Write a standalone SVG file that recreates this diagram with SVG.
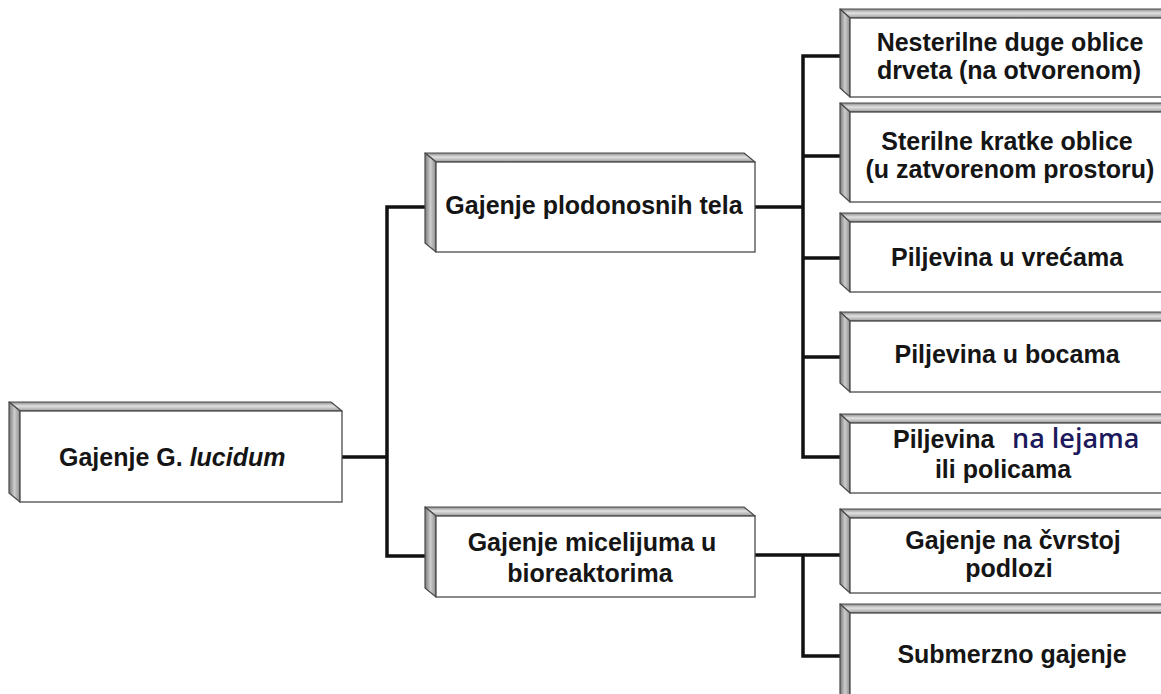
<svg xmlns="http://www.w3.org/2000/svg" width="1161" height="694" viewBox="0 0 1161 694">
<defs>
<linearGradient id="gTop" x1="0" y1="0" x2="0" y2="1">
<stop offset="0" stop-color="#8a8a8a"/>
<stop offset="0.45" stop-color="#e2e2e2"/>
<stop offset="1" stop-color="#9a9a9a"/>
</linearGradient>
<linearGradient id="gSide" x1="0" y1="0" x2="1" y2="0">
<stop offset="0" stop-color="#7a7a7a"/>
<stop offset="0.5" stop-color="#cdcdcd"/>
<stop offset="1" stop-color="#8c8c8c"/>
</linearGradient>
<style>
.front{fill:#ffffff;stroke:#4a4a4a;stroke-width:1.3}
.top{fill:url(#gTop);stroke:#4a4a4a;stroke-width:1.2;stroke-linejoin:round}
.side{fill:url(#gSide);stroke:#4a4a4a;stroke-width:1.2;stroke-linejoin:round}
.t{font-family:"Liberation Sans",Arial,sans-serif;font-weight:bold;font-size:25px;fill:#151515;text-anchor:middle}
.ts{font-family:"Liberation Sans",Arial,sans-serif;font-weight:bold;font-size:25px;fill:#151515}
.blue{font-family:"Open Sans","Liberation Sans",sans-serif;font-weight:600;font-size:27px;fill:#1c1a5c}
.con{fill:none;stroke:#111;stroke-width:3.5;stroke-linecap:square}
</style>
</defs>
<g id="connectors">
<path class="con" d="M342,457 H387 M387,207 V556 M387,207 H436 M387,556 H436"/>
<path class="con" d="M755,207 H803 M803,56 V457 M803,56 H850 M803,156 H850 M803,258 H850 M803,357 H850 M803,457 H850"/>
<path class="con" d="M755,555 H850 M803,555 V656 H850"/>
</g>
<g id="root">
<polygon class="top" points="9,402 331,402 342,411 20,411"/>
<polygon class="side" points="9,402 20,411 20,502 9,493"/>
<rect class="front" x="20" y="411" width="322" height="91"/>
<text class="ts" x="59" y="466">Gajenje <tspan>G.</tspan> <tspan font-style="italic">lucidum</tspan></text>
</g>
<g id="mid1">
<polygon class="top" points="425,153 744,153 755,162 436,162"/>
<polygon class="side" points="425,153 436,162 436,252 425,243"/>
<rect class="front" x="436" y="162" width="319" height="90"/>
<text class="t" x="594" y="214">Gajenje plodonosnih tela</text>
</g>
<g id="mid2">
<polygon class="top" points="425,507 744,507 755,516 436,516"/>
<polygon class="side" points="425,507 436,516 436,597 425,588"/>
<rect class="front" x="436" y="516" width="319" height="81"/>
<text class="t" x="592" y="551">Gajenje micelijuma u</text>
<text class="t" x="590" y="582">bioreaktorima</text>
</g>
<g id="r1">
<polygon class="top" points="840,9 1170,9 1180,18 850,18"/>
<polygon class="side" points="840,9 850,18 850,97 840,88"/>
<rect class="front" x="850" y="18" width="330" height="79"/>
<text class="t" x="1010" y="51">Nesterilne duge oblice</text>
<text class="t" x="1009" y="79">drveta (na otvorenom)</text>
</g>
<g id="r2">
<polygon class="top" points="840,103 1170,103 1180,112 850,112"/>
<polygon class="side" points="840,103 850,112 850,202 840,193"/>
<rect class="front" x="850" y="112" width="330" height="90"/>
<text class="t" x="1007" y="150">Sterilne kratke oblice</text>
<text class="t" x="1010" y="178">(u zatvorenom prostoru)</text>
</g>
<g id="r3">
<polygon class="top" points="840,213 1170,213 1180,222 850,222"/>
<polygon class="side" points="840,213 850,222 850,292 840,283"/>
<rect class="front" x="850" y="222" width="330" height="70"/>
<text class="t" x="1007" y="266">Piljevina u vrećama</text>
</g>
<g id="r4">
<polygon class="top" points="840,312 1170,312 1180,321 850,321"/>
<polygon class="side" points="840,312 850,321 850,392 840,383"/>
<rect class="front" x="850" y="321" width="330" height="71"/>
<text class="t" x="1007" y="363">Piljevina u bocama</text>
</g>
<g id="r5">
<polygon class="top" points="840,414 1170,414 1180,423 850,423"/>
<polygon class="side" points="840,414 850,423 850,493 840,484"/>
<rect class="front" x="850" y="423" width="330" height="70"/>
<text class="ts" x="893" y="448">Piljevina</text>
<text class="blue" x="1012" y="448">na lejama</text>
<text class="t" x="1003" y="478">ili policama</text>
</g>
<g id="r6">
<polygon class="top" points="840,509 1170,509 1180,518 850,518"/>
<polygon class="side" points="840,509 850,518 850,593 840,584"/>
<rect class="front" x="850" y="518" width="330" height="75"/>
<text class="t" x="1013" y="549">Gajenje na čvrstoj</text>
<text class="t" x="1009" y="577">podlozi</text>
</g>
<g id="r7">
<polygon class="top" points="840,604 1170,604 1180,613 850,613"/>
<polygon class="side" points="840,604 850,613 850,703 840,694"/>
<rect class="front" x="850" y="613" width="330" height="90"/>
<text class="t" x="1012" y="663">Submerzno gajenje</text>
</g>
</svg>
